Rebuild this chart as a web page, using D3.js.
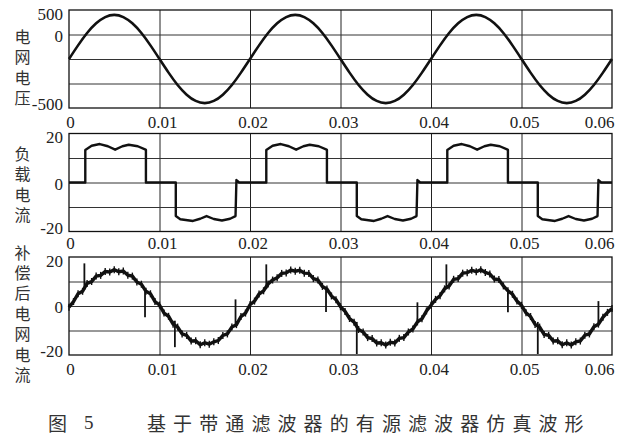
<!DOCTYPE html>
<html><head><meta charset="utf-8">
<script src="https://cdn.jsdelivr.net/npm/d3@7"></script>
<style>
html,body{margin:0;padding:0;background:#fff;}
svg{display:block;}
.num{font-family:"Liberation Serif","DejaVu Serif",serif;font-size:17px;}
.cjk{font-family:"Noto Sans CJK SC","Noto Sans CJK TC",sans-serif;}
</style>
</head><body>
<svg id="chart" width="624" height="441"></svg>
<script>
// ---------------- data ----------------
const xTickValues = [0, 0.01, 0.02, 0.03, 0.04, 0.05, 0.06];
const xTickLabels = ["0", "0.01", "0.02", "0.03", "0.04", "0.05", "0.06"];

// panel 1: grid voltage (sampled every 1 ms)
const voltageT = [0,0.001,0.002,0.003,0.004,0.005,0.006,0.007,0.008,0.009,
  0.010,0.011,0.012,0.013,0.014,0.015,0.016,0.017,0.018,0.019,
  0.020,0.021,0.022,0.023,0.024,0.025,0.026,0.027,0.028,0.029,
  0.030,0.031,0.032,0.033,0.034,0.035,0.036,0.037,0.038,0.039,
  0.040,0.041,0.042,0.043,0.044,0.045,0.046,0.047,0.048,0.049,
  0.050,0.051,0.052,0.053,0.054,0.055,0.056,0.057,0.058,0.059,0.060];
const voltageV = [0,139,265,364,428,450,428,364,265,139,
  0,-139,-265,-364,-428,-450,-428,-364,-265,-139,
  0,139,265,364,428,450,428,364,265,139,
  0,-139,-265,-364,-428,-450,-428,-364,-265,-139,
  0,139,265,364,428,450,428,364,265,139,
  0,-139,-265,-364,-428,-450,-428,-364,-265,-139,0];
const voltageTickValues = [500, 250, -500];
const voltageTickLabels = ["500", "0", "-500"];
const voltageGrid = [250, 0, -250];

// panel 2: load current
const loadT = [
  0,0.0018,0.0018,0.0025,0.0034,0.0043,0.0051,0.0059,0.0066,0.0076,0.0084,0.0085,0.0085,
  0.0118,0.0118,0.0123,0.0137,0.0145,0.0152,0.0160,0.0169,0.0178,0.0184,0.0185,0.0188,
  0.0218,0.0218,0.0225,0.0234,0.0243,0.0251,0.0259,0.0266,0.0276,0.0284,0.0285,0.0285,
  0.0318,0.0318,0.0323,0.0337,0.0345,0.0352,0.0360,0.0369,0.0378,0.0384,0.0385,0.0388,
  0.0418,0.0418,0.0425,0.0434,0.0443,0.0451,0.0459,0.0466,0.0476,0.0484,0.0485,0.0485,
  0.0518,0.0518,0.0523,0.0537,0.0545,0.0552,0.0560,0.0569,0.0578,0.0584,0.0585,0.0588,0.0600];
const loadV = [
  0,0,13.3,15.0,15.7,14.8,13.4,14.8,15.4,14.8,13.5,13.3,0,
  0,-13.7,-15.0,-15.7,-14.8,-13.7,-14.9,-15.5,-14.8,-13.7,1.0,0,
  0,13.3,15.0,15.7,14.8,13.4,14.8,15.4,14.8,13.5,13.3,0,
  0,-13.7,-15.0,-15.7,-14.8,-13.7,-14.9,-15.5,-14.8,-13.7,1.0,0,
  0,13.3,15.0,15.7,14.8,13.4,14.8,15.4,14.8,13.5,13.3,0,
  0,-13.7,-15.0,-15.7,-14.8,-13.7,-14.9,-15.5,-14.8,-13.7,1.0,0,0];
const currentTickValues = [20, 0, -20];
const currentTickLabels = ["20", "0", "-20"];
const currentGrid = [10, 0, -10];

// panel 3: compensated grid current (sampled every 0.5 ms)
const compT = [0,0.0005,0.001,0.0015,0.002,0.0025,0.003,0.0035,0.004,0.0045,
  0.005,0.0055,0.006,0.0065,0.007,0.0075,0.008,0.0085,0.009,0.0095,
  0.01,0.0105,0.011,0.0115,0.012,0.0125,0.013,0.0135,0.014,0.0145,
  0.015,0.0155,0.016,0.0165,0.017,0.0175,0.018,0.0185,0.019,0.0195,
  0.02,0.0205,0.021,0.0215,0.022,0.0225,0.023,0.0235,0.024,0.0245,
  0.025,0.0255,0.026,0.0265,0.027,0.0275,0.028,0.0285,0.029,0.0295,
  0.03,0.0305,0.031,0.0315,0.032,0.0325,0.033,0.0335,0.034,0.0345,
  0.035,0.0355,0.036,0.0365,0.037,0.0375,0.038,0.0385,0.039,0.0395,
  0.04,0.0405,0.041,0.0415,0.042,0.0425,0.043,0.0435,0.044,0.0445,
  0.045,0.0455,0.046,0.0465,0.047,0.0475,0.048,0.0485,0.049,0.0495,
  0.05,0.0505,0.051,0.0515,0.052,0.0525,0.053,0.0535,0.054,0.0545,
  0.055,0.0555,0.056,0.0565,0.057,0.0575,0.058,0.0585,0.059,0.0595,0.06];
const compV = [-0.5,1.8,5.0,6.0,9.2,10.0,12.2,12.5,14.1,13.9,
  14.8,14.0,14.3,12.6,12.2,9.8,8.9,6.0,5.0,1.8,
  0.4,-2.9,-4.2,-7.4,-8.6,-11.4,-12.0,-14.3,-14.2,-15.8,
  -15.0,-15.6,-14.6,-14.1,-12.0,-11.4,-8.6,-7.6,-4.3,-2.9,
  0.5,2.0,4.9,6.2,9.0,10.6,11.5,13.3,13.5,14.7,
  14.2,14.6,13.4,13.3,11.2,10.6,8.0,6.9,4.1,2.6,
  -0.3,-2.2,-5.1,-6.6,-9.6,-10.6,-12.9,-13.3,-15.1,-15.0,
  -15.9,-14.8,-15.1,-13.2,-12.9,-10.6,-9.4,-6.5,-5.2,-2.0,
  0.3,2.7,4.2,7.0,8.2,10.9,11.2,13.4,13.6,14.6,
  14.0,14.8,13.7,13.1,11.0,10.8,8.2,6.2,4.8,2.0,
  0.3,-2.8,-4.3,-7.5,-8.6,-11.6,-12.0,-14.3,-14.2,-15.8,
  -15.0,-15.9,-14.6,-14.3,-11.9,-11.4,-8.5,-7.4,-4.6,-2.6,-1.0];
// switching spikes on the compensated current
const spikeT    = [0.0017,0.0084,0.0117,0.0184, 0.0218,0.0284,0.0318,0.0385, 0.0417,0.0485,0.0518,0.0585];
const spikeBase = [6.5,6.0,-6.0,-7.5, 7.0,6.5,-6.5,-7.0, 7.0,6.5,-6.5,-7.0];
const spikePeak = [17.4,-4.6,-16.8,2.7, 17.0,-2.4,-19.6,1.5, 17.0,-2.6,-19.6,2.0];

const panelTitles = ["电网电压", "负载电流", "补偿后电网电流"];
const captionFig = "图";
const captionNum = "5";
const captionText = "基于带通滤波器的有源滤波器仿真波形";

// ---------------- drawing ----------------
const svg = d3.select("#chart");
const left = 69, right = 612;
const x = d3.scaleLinear().domain([0, 0.06]).range([left, right]);

const panels = [
  {top: 10, bottom: 108, dom: [-500, 500], grid: voltageGrid, tv: voltageTickValues, tl: voltageTickLabels,
   labelBase: 128, titleY: 36.7},
  {top: 133.5, bottom: 231.5, dom: [-20, 20], grid: currentGrid, tv: currentTickValues, tl: currentTickLabels,
   labelBase: 249, titleY: 154},
  {top: 257, bottom: 355, dom: [-20, 20], grid: currentGrid, tv: currentTickValues, tl: currentTickLabels,
   labelBase: 375, titleY: 252.5}
];

const gridT = xTickValues.slice(1, -1);

panels.forEach((p, pi) => {
  const y = d3.scaleLinear().domain(p.dom).range([p.bottom, p.top]);
  p.y = y;
  const g = svg.append("g");
  // vertical grid
  g.append("g").attr("transform", `translate(0,${p.bottom})`)
    .call(d3.axisBottom(x).tickValues(gridT).tickSize(-(p.bottom - p.top)).tickFormat(""))
    .call(s => s.select(".domain").remove())
    .call(s => s.selectAll("line").attr("stroke", "#222").attr("stroke-width", 1));
  // horizontal grid
  g.append("g").attr("transform", `translate(${left},0)`)
    .call(d3.axisLeft(y).tickValues(p.grid).tickSize(-(right - left)).tickFormat(""))
    .call(s => s.select(".domain").remove())
    .call(s => s.selectAll("line").attr("stroke", "#333").attr("stroke-width", 1));
  // frame
  g.append("rect").attr("x", left).attr("y", p.top)
    .attr("width", right - left).attr("height", p.bottom - p.top)
    .attr("fill", "none").attr("stroke", "#111").attr("stroke-width", 1.3);

  // y tick labels
  const ya = g.append("g").attr("transform", `translate(${left - 6},0)`)
    .call(d3.axisLeft(y).tickValues(p.tv).tickSize(0).tickPadding(0)
      .tickFormat((d, i) => p.tl[i]));
  ya.select(".domain").remove();
  ya.attr("font-family", null).attr("font-size", null);
  ya.selectAll("text").attr("class", "num").attr("fill", "#222")
    .attr("y", (d, i) => i === 0 ? 4 : (i === p.tv.length - 1 ? -3.5 : 1.5));

  // x tick labels
  const xa = g.append("g").attr("transform", `translate(0,${p.labelBase - 12})`)
    .call(d3.axisBottom(x).tickValues(xTickValues).tickSize(0).tickPadding(0)
      .tickFormat((d, i) => xTickLabels[i]));
  xa.select(".domain").remove();
  xa.attr("font-family", null).attr("font-size", null);
  xa.selectAll("text").attr("class", "num").attr("fill", "#222")
    .attr("dy", "0.71em")
    .attr("dx", (d, i) => i === 0 ? 1 : (i === xTickValues.length - 1 ? 2 : 2.5))
    .attr("text-anchor", (d, i) => i === xTickValues.length - 1 ? "end" : "middle");

  // vertical title (one text, vertical writing)
  g.append("text").attr("class", "cjk")
    .attr("x", 22.5).attr("y", p.titleY - 8)
    .style("writing-mode", "vertical-rl")
    .style("text-orientation", "upright")
    .style("font-size", "16px")
    .style("letter-spacing", "4.4px")
    .attr("fill", "#333")
    .text(panelTitles[pi]);
});

// series
const lineGen = (y) => d3.line().x(d => x(d[0])).y(d => y(d[1]));

svg.append("path")
  .datum(voltageT.map((t, i) => [t, voltageV[i]]))
  .attr("fill", "none").attr("stroke", "#111").attr("stroke-width", 2.6)
  .attr("d", lineGen(panels[0].y).curve(d3.curveNatural));

svg.append("path")
  .datum(loadT.map((t, i) => [t, loadV[i]]))
  .attr("fill", "none").attr("stroke", "#111").attr("stroke-width", 2.4)
  .attr("stroke-linejoin", "round")
  .attr("d", lineGen(panels[1].y));

const compData = compT.map((t, i) => [t, compV[i]]);
svg.append("path")
  .datum(compData)
  .attr("fill", "none").attr("stroke", "#111").attr("stroke-width", 3.4)
  .attr("stroke-linejoin", "miter")
  .attr("d", lineGen(panels[2].y));
// ripple hairs at every sample
svg.append("g").selectAll("line").data(compData).join("line")
  .attr("x1", d => x(d[0])).attr("x2", d => x(d[0]))
  .attr("y1", d => panels[2].y(d[1]) - 3.5)
  .attr("y2", d => panels[2].y(d[1]) + 3.5)
  .attr("stroke", "#111").attr("stroke-width", 1.4);

svg.append("g").selectAll("line").data(spikeT).join("line")
  .attr("x1", d => x(d)).attr("x2", d => x(d))
  .attr("y1", (d, i) => panels[2].y(spikeBase[i]))
  .attr("y2", (d, i) => panels[2].y(spikePeak[i]))
  .attr("stroke", "#111").attr("stroke-width", 1.8);

// caption
const cap = svg.append("g").attr("fill", "#333");
cap.append("text").attr("class", "cjk").attr("x", 48).attr("y", 422)
  .attr("dominant-baseline", "central").style("font-size", "19px").text(captionFig);
cap.append("text").attr("class", "num").attr("x", 84).attr("y", 422)
  .attr("dominant-baseline", "central").style("font-size", "19px").text(captionNum);
cap.append("text").attr("class", "cjk").attr("x", 147).attr("y", 422)
  .attr("dominant-baseline", "central").style("font-size", "19px")
  .style("letter-spacing", "7.1px").text(captionText);
</script>
</body></html>
